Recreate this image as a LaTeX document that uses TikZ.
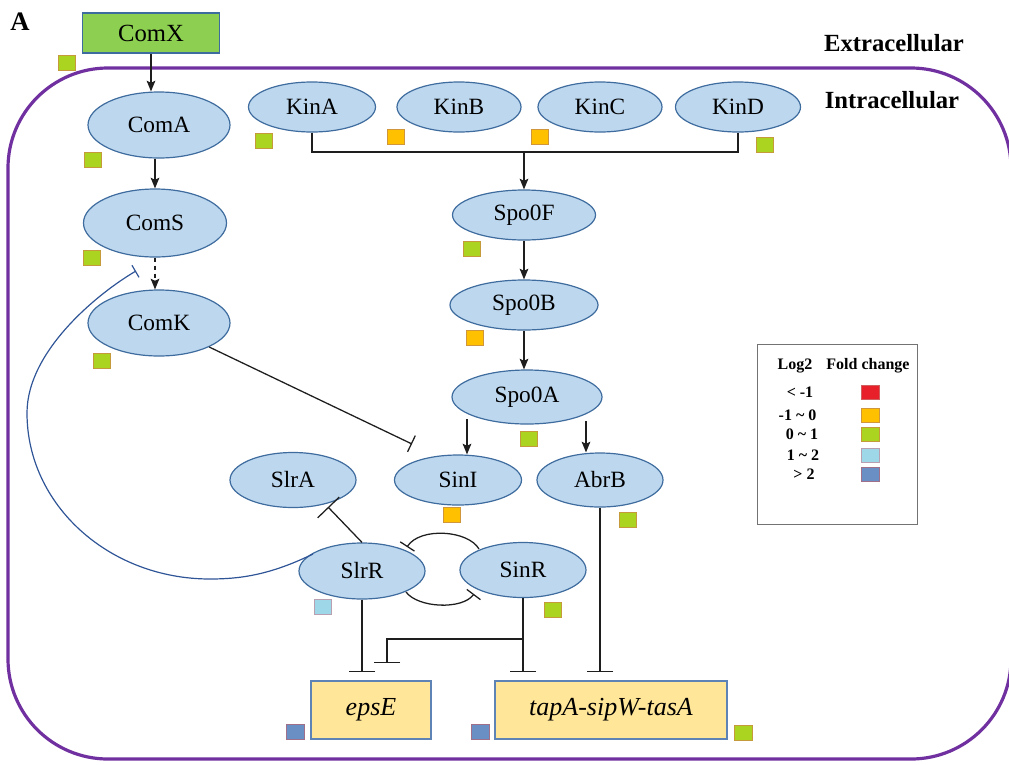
\documentclass[tikz,border=0pt]{standalone}
\usepackage{fontspec}
\setmainfont{Liberation Serif}
\usetikzlibrary{shapes.geometric,arrows.meta}
\definecolor{ellfill}{HTML}{BDD7EE}
\definecolor{elldraw}{HTML}{3F6C9E}
\definecolor{comxfill}{HTML}{8DCF50}
\definecolor{genefill}{HTML}{FFE699}
\definecolor{genedraw}{HTML}{5E84B5}
\definecolor{sqgreen}{HTML}{AAD41F}
\definecolor{sqgreenb}{HTML}{C59A3A}
\definecolor{sqorange}{HTML}{FFC000}
\definecolor{sqorangeb}{HTML}{D0963C}
\definecolor{sqlblue}{HTML}{9ED8E8}
\definecolor{sqlblueb}{HTML}{B8A0B0}
\definecolor{sqdblue}{HTML}{6A8FC4}
\definecolor{sqdblueb}{HTML}{A0708A}
\definecolor{sqred}{HTML}{E8202A}
\definecolor{sqredb}{HTML}{D06060}
\definecolor{cellpurple}{HTML}{7030A0}
\definecolor{curveblue}{HTML}{2F5597}
\definecolor{lnk}{HTML}{1E1E1E}
\newcommand{\myNF}{\fontsize{17.5pt}{20pt}\selectfont}
\newcommand{\myGF}{\fontsize{19.5pt}{22pt}\selectfont\itshape}
\newcommand{\myLF}{\fontsize{12pt}{14pt}\selectfont\bfseries}
\begin{document}
\begin{tikzpicture}[x=0.75pt,y=-0.75pt,
  sz/.style 2 args={minimum width=#1*0.75pt, minimum height=#2*0.75pt},
  ell/.style={ellipse, draw=elldraw, fill=ellfill, line width=0.9pt, inner sep=0pt, font=\myNF},
  gene/.style={rectangle, draw=genedraw, fill=genefill, line width=0.9pt, inner sep=0pt, font=\myGF},
  sq/.style={rectangle, inner sep=0pt, minimum width=13pt, minimum height=11.25pt, line width=0.6pt},
  gsq/.style={sq, fill=sqgreen, draw=sqgreenb},
  osq/.style={sq, fill=sqorange, draw=sqorangeb},
  lbsq/.style={sq, fill=sqlblue, draw=sqlblueb},
  dbsq/.style={sq, fill=sqdblue, draw=sqdblueb},
  rsq/.style={sq, fill=sqred, draw=sqredb},
  ln/.style={draw=lnk, line width=0.95pt},
  arr/.style={ln, -{Stealth[length=8pt,width=6.5pt,inset=1.5pt]}},
  inh/.style={ln, -{Bar[width=#1*0.75pt]}},
  inh/.default=26,
  lgt/.style={inner sep=0pt, font=\myLF},
  ttl/.style={inner sep=0pt, font=\fontsize{18.5pt}{22pt}\selectfont\bfseries}
]
\useasboundingbox (0,0) rectangle (1009,764);

% cell boundary
\draw[cellpurple, line width=2.4pt, rounded corners=75pt] (8,68) rectangle (1011,759);

% titles
\node[ttl, font=\fontsize{20pt}{22pt}\selectfont\bfseries] (lblA) at (20,22) {A};
\node[ttl] (extra) at (894,43) {Extracellular};
\node[ttl] (intra) at (892,100) {Intracellular};

% nodes
\node[rectangle, draw=elldraw, fill=comxfill, line width=0.9pt, inner sep=0pt, sz={137}{40}, font=\fontsize{18.5pt}{20pt}\selectfont] (ComX) at (151,33) {ComX};
\node[ell, sz={142}{66}] (ComA) at (159,125) {ComA};
\node[ell, sz={143}{68}] (ComS) at (155,223) {ComS};
\node[ell, sz={142}{66}] (ComK) at (159,323) {ComK};
\node[ell, sz={127}{50}] (KinA) at (312,107) {KinA};
\node[ell, sz={124}{50}] (KinB) at (459,107) {KinB};
\node[ell, sz={124}{50}] (KinC) at (600,107) {KinC};
\node[ell, sz={125}{50}] (KinD) at (738,107) {KinD};
\node[ell, sz={143}{50}] (Spo0F) at (524,215) {Spo0F};
\node[ell, sz={148}{50}] (Spo0B) at (524,305) {Spo0B};
\node[ell, sz={150}{54}] (Spo0A) at (527,397) {Spo0A};
\node[ell, sz={127}{50}] (SinI) at (458,480) {SinI};
\node[ell, sz={126}{54}] (AbrB) at (600,480) {AbrB};
\node[ell, sz={126}{55}] (SlrA) at (293,480) {SlrA};
\node[ell, sz={126}{56}] (SlrR) at (362,571) {SlrR};
\node[ell, sz={126}{55}] (SinR) at (523,570) {SinR};
\node[gene, sz={120}{58}] (epsE) at (371,710) {epsE};
\node[gene, sz={232}{58}] (tapA) at (611,710) {tapA-sipW-tasA};

% fold-change squares
\node[gsq] (qComX) at (67,63) {};
\node[gsq] (qComA) at (93,160) {};
\node[gsq] (qComS) at (92,258) {};
\node[gsq] (qComK) at (102,361) {};
\node[gsq] (qKinA) at (264,141) {};
\node[osq] (qKinB) at (396,137) {};
\node[osq] (qKinC) at (540,137) {};
\node[gsq] (qKinD) at (765,145) {};
\node[gsq] (qSpo0F) at (472,249) {};
\node[osq] (qSpo0B) at (475,338) {};
\node[gsq] (qSpo0A) at (529,439) {};
\node[osq] (qSinI) at (452,515) {};
\node[gsq] (qAbrB) at (628,520) {};
\node[lbsq] (qSlrR) at (323,607) {};
\node[gsq] (qSinR) at (553,610) {};
\node[dbsq] (qepsE) at (295.5,732) {};
\node[dbsq] (qtapL) at (480.5,732) {};
\node[gsq] (qtapR) at (743.5,733) {};

% legend
\node[draw=black!55, line width=0.6pt, sz={160}{180}, inner sep=0pt] (leg) at (837,434) {};
\node[lgt] (lh1) at (795,366) {Log2};
\node[lgt] (lh2) at (868,366) {Fold change};
\node[lgt] (lr1) at (800,392) {< -1};
\node[lgt] (lr2) at (797.5,415) {-1 \textasciitilde{} 0};
\node[lgt] (lr3) at (802,434) {0 \textasciitilde{} 1};
\node[lgt] (lr4) at (803,455) {1 \textasciitilde{} 2};
\node[lgt] (lr5) at (804,474) {> 2};
\node[rsq, minimum width=13.5pt, minimum height=10.5pt] (lq1) at (870,392) {};
\node[osq, minimum width=13.5pt, minimum height=10.5pt] (lq2) at (870,415.5) {};
\node[gsq, minimum width=13.5pt, minimum height=10.5pt] (lq3) at (870,434) {};
\node[lbsq, minimum width=13.5pt, minimum height=10.5pt] (lq4) at (870,455) {};
\node[dbsq, minimum width=13.5pt, minimum height=10.5pt] (lq5) at (870,474) {};

% coordinates
\coordinate (kbar) at (524,152);
\coordinate (lvl) at (0,672);
\coordinate (a0L) at (467,419);
\coordinate (a0R) at (586,421);
\coordinate (kSinI) at (412,444);
\coordinate (rSlrA) at (328,507);
\coordinate (sinRup) at (479,549);
\coordinate (slrRup) at (407,547);
\coordinate (slrRlo) at (406,592);
\coordinate (sinRlo) at (474,594);
\coordinate (brA) at (523,639);
\coordinate (brB) at (387,663);
\coordinate (cs) at (313,554);
\coordinate (ck) at (136,271);

% connectors
\draw[arr] (ComX.south) -- (ComX.south |- ComA.north);
\draw[arr] (ComA.south -| ComS.north) -- (ComS.north);
\draw[arr, dash pattern=on 3.5pt off 2.5pt] (ComS.south) -- (ComS.south |- ComK.north);
\draw[ln] (KinA.south) |- (kbar) -| (KinD.south);
\draw[arr] (kbar) -- (Spo0F.north);
\draw[arr] (Spo0F.south) -- (Spo0B.north);
\draw[arr] (Spo0B.south) -- (Spo0B.south |- Spo0A.north);
\draw[arr] (a0L) -- (a0L |- SinI.north);
\draw[arr] (a0R) -- (a0R |- AbrB.north);
\draw[inh=18] (ComK) -- (kSinI);
\draw[inh=30] (SlrR.north) -- (rSlrA);
\draw[inh=17] (sinRup) .. controls (468,530) and (420,527) .. (slrRup);
\draw[inh=17] (slrRlo) .. controls (418,608) and (462,610) .. (sinRlo);
\draw[inh] (SlrR.south) -- (SlrR.south |- lvl);
\draw[inh] (SinR.south) -- (SinR.south |- lvl);
\draw[inh] (brA) -| (brB);
\draw[inh] (AbrB.south) -- (AbrB.south |- lvl);
\draw[draw=curveblue, line width=0.9pt, -{Bar[width=10.5pt]}]
  (cs) .. controls (270,575) and (240,579) .. (210,579)
       .. controls (109,579) and (27,505) .. (27,413)
       .. controls (27,350) and (100,292) .. (ck);
\end{tikzpicture}
\end{document}
